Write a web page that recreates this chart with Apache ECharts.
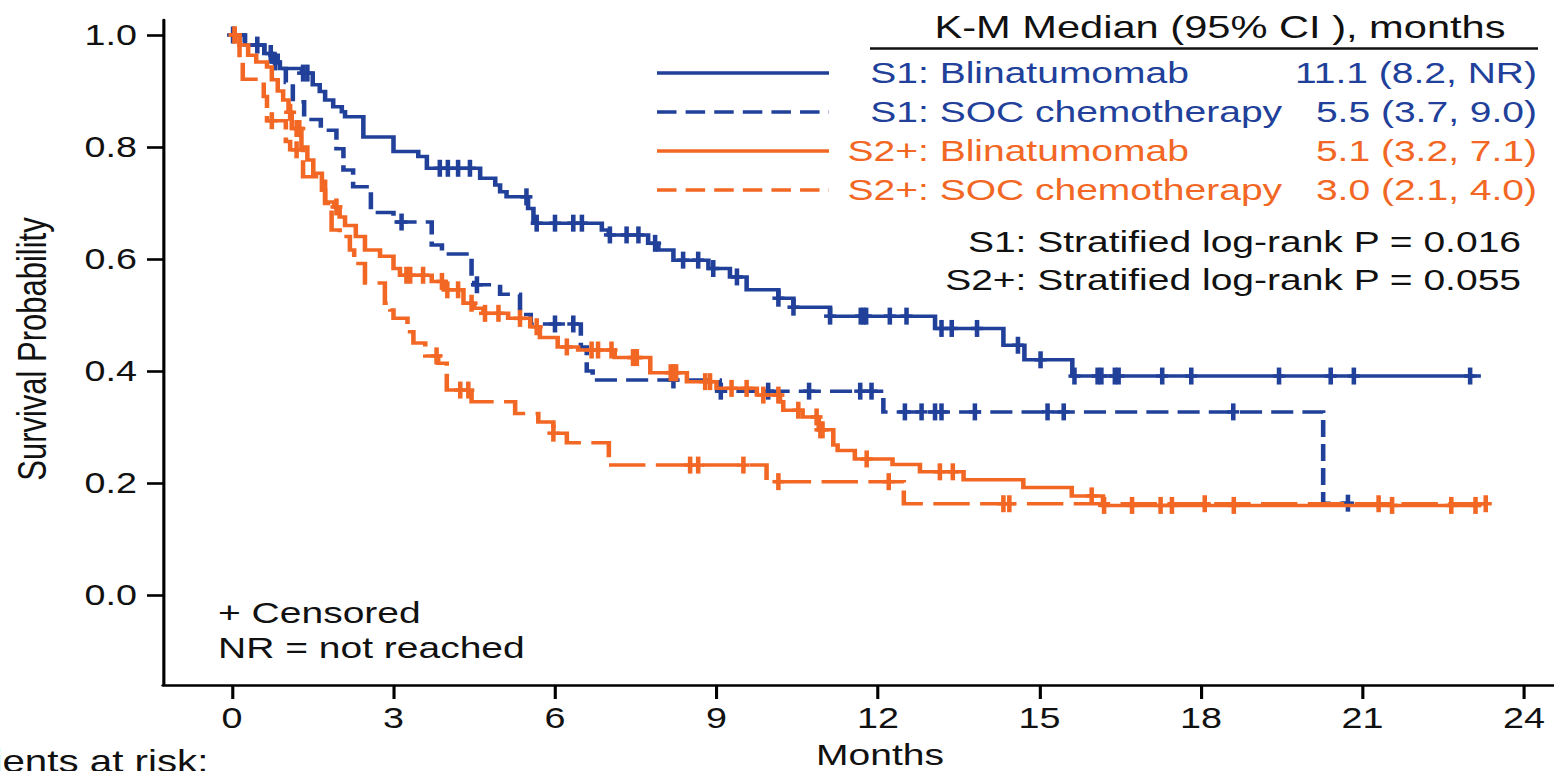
<!DOCTYPE html>
<html>
<head>
<meta charset="utf-8">
<script src="https://cdn.jsdelivr.net/npm/echarts@6/dist/echarts.min.js"></script>
<style>
  html, body { margin: 0; padding: 0; background: #fff; overflow: hidden; }
  #chart { width: 1195px; height: 771px; transform-origin: 0 0; }
</style>
</head>
<body>
<div id="chart"></div>
<script>
// ---- Kaplan-Meier data (months, survival probability) ----
// S1: Blinatumomab
const s1BlinTimes = [0, 0.24, 0.6, 0.75, 0.89, 1.3, 1.5, 1.63, 1.73, 1.88, 2.04, 2.1, 2.44, 3.0, 3.46, 3.62, 4.61, 4.89, 4.98, 5.1, 5.5, 5.6, 6.87, 7.0, 7.73, 7.92, 8.2, 8.85, 9.25, 9.56, 10.15, 10.43, 11.11, 13.06, 14.33, 14.72, 15.61];
const s1BlinSurv  = [1.0, 0.982, 0.967, 0.952, 0.94, 0.932, 0.911, 0.899, 0.884, 0.872, 0.863, 0.854, 0.818, 0.792, 0.783, 0.762, 0.744, 0.732, 0.72, 0.711, 0.69, 0.664, 0.652, 0.643, 0.628, 0.616, 0.598, 0.583, 0.568, 0.545, 0.53, 0.514, 0.498, 0.476, 0.446, 0.42, 0.391];
const s1BlinCensored = [0.02, 0.47, 0.72, 0.8, 1.32, 1.4, 3.86, 4.01, 4.2, 4.42, 5.47, 5.66, 6.0, 6.34, 6.5, 7.02, 7.33, 7.55, 7.86, 8.38, 8.66, 8.94, 9.38, 10.15, 10.43, 11.11, 11.68, 11.73, 11.78, 12.22, 12.53, 13.18, 13.37, 13.84, 14.6, 15.02, 15.65, 16.08, 16.15, 16.4, 16.47, 17.28, 17.82, 19.45, 20.41, 20.84, 23.0];
const s1BlinLast = 23.2;

// S1: SOC chemotherapy
const s1SocTimes = [0, 0.24, 0.6, 0.85, 1.0, 1.13, 1.34, 1.65, 1.94, 2.07, 2.25, 2.58, 3.0, 3.71, 3.9, 4.45, 4.5, 4.98, 5.35, 5.55, 6.48, 6.59, 6.7, 9.06, 12.1, 20.27];
const s1SocSurv  = [1.0, 0.982, 0.964, 0.94, 0.915, 0.881, 0.849, 0.83, 0.797, 0.759, 0.729, 0.683, 0.666, 0.625, 0.609, 0.57, 0.554, 0.537, 0.501, 0.484, 0.443, 0.4, 0.384, 0.364, 0.327, 0.164];
const s1SocCensored = [3.15, 4.55, 6.0, 6.34, 8.2, 9.08, 9.96, 10.72, 11.67, 11.88, 12.5, 12.81, 13.06, 13.18, 13.8, 15.15, 15.45, 18.6, 20.73];
const s1SocLast = 20.75;

// S2+: Blinatumomab
const s2BlinTimes = [0, 0.14, 0.3, 0.45, 0.65, 0.74, 0.85, 0.95, 1.05, 1.11, 1.29, 1.4, 1.51, 1.67, 1.73, 1.9, 2.0, 2.1, 2.3, 2.47, 2.75, 3.0, 3.12, 3.71, 3.95, 4.3, 4.5, 4.67, 5.13, 5.54, 5.72, 6.05, 6.43, 7.11, 7.77, 8.45, 9.0, 9.75, 10.18, 10.24, 10.6, 10.9, 11.17, 11.25, 11.57, 12.27, 12.78, 13.59, 14.7, 15.6, 16.18];
const s2BlinSurv  = [1.0, 0.982, 0.964, 0.952, 0.943, 0.92, 0.9, 0.884, 0.862, 0.833, 0.8, 0.777, 0.753, 0.723, 0.702, 0.693, 0.675, 0.66, 0.64, 0.616, 0.605, 0.583, 0.571, 0.56, 0.545, 0.521, 0.512, 0.503, 0.494, 0.479, 0.46, 0.443, 0.4375, 0.424, 0.397, 0.381, 0.369, 0.357, 0.345, 0.33, 0.318, 0.295, 0.268, 0.258, 0.243, 0.233, 0.22, 0.206, 0.192, 0.177, 0.16];
const s2BlinCensored = [0.05, 1.08, 1.2, 1.25, 1.94, 3.24, 3.31, 3.55, 3.9, 4.0, 4.2, 4.45, 4.7, 4.95, 5.35, 5.66, 6.22, 6.68, 6.8, 7.05, 7.45, 7.49, 7.52, 8.15, 8.2, 8.25, 8.79, 8.88, 9.28, 9.56, 9.87, 10.15, 10.52, 10.86, 10.93, 10.97, 11.79, 13.15, 13.39, 15.97, 16.2, 16.72, 17.25, 17.46, 18.61, 21.55, 22.65, 23.1];
const s2BlinLast = 23.2;

// S2+: SOC chemotherapy
const s2SocTimes = [0, 0.14, 0.2, 0.59, 0.65, 1.0, 1.08, 1.32, 1.73, 1.85, 2.0, 2.19, 2.27, 2.47, 2.84, 2.94, 3.0, 3.26, 3.37, 3.59, 3.83, 3.99, 4.45, 5.26, 5.69, 5.97, 6.22, 7.0, 9.93, 12.48];
const s2SocSurv  = [1.0, 0.96, 0.921, 0.89, 0.847, 0.81, 0.795, 0.747, 0.699, 0.652, 0.64, 0.616, 0.592, 0.557, 0.521, 0.509, 0.494, 0.47, 0.45, 0.427, 0.414, 0.366, 0.345, 0.324, 0.309, 0.289, 0.272, 0.232, 0.2024, 0.163];
const s2SocCensored = [0.05, 0.74, 1.2, 3.8, 4.24, 4.39, 5.97, 8.51, 8.66, 9.5, 10.15, 12.2, 14.33, 14.44, 18.07, 21.3, 23.29];
const s2SocLast = 23.3;

// ---- labels ----
const groupNames   = ['S1', 'S1', 'S2+', 'S2+'];
const armNames     = [': Blinatumomab', ': SOC chemotherapy', ': Blinatumomab', ': SOC chemotherapy'];
const medianLabels = ['11.1 (8.2, NR)', '5.5 (3.7, 9.0)', '5.1 (3.2, 7.1)', '3.0 (2.1, 4.0)'];
const pValueLabels = ['S1: Stratified log-rank P = 0.016', 'S2+: Stratified log-rank P = 0.055'];
const xTickValues  = [0, 3, 6, 9, 12, 15, 18, 21, 24];
const yTickValues  = [0, 0.2, 0.4, 0.6, 0.8, 1.0];

// ---- page setup ----
// The chart is laid out on a narrower canvas and stretched horizontally to
// the page width, which gives the wide type and strokes of this figure style.
const PAGE_W = 1554, CHART_W = 1195;
const SX = PAGE_W / CHART_W;
const el = document.getElementById('chart');
el.style.transform = 'scaleX(' + SX + ')';
const px = x => x / SX;   // page x -> chart x

const BLUE = '#21409a';
const ORANGE = '#f26724';
const INK = '#111111';
const FONT = '"Liberation Sans", Arial, Helvetica, sans-serif';

function stepData(times, surv, last) {
  const d = times.map((t, i) => [t, surv[i]]);
  d.push([last, surv[surv.length - 1]]);
  return d;
}
function survAt(times, surv, t) {
  let v = surv[0];
  for (let i = 0; i < times.length; i++) if (times[i] <= t) v = surv[i];
  return v;
}

const curves = [
  { times: s1BlinTimes, surv: s1BlinSurv, cens: s1BlinCensored, last: s1BlinLast, color: BLUE,   dash: null },
  { times: s1SocTimes,  surv: s1SocSurv,  cens: s1SocCensored,  last: s1SocLast,  color: BLUE,   dash: [17, 7] },
  { times: s2BlinTimes, surv: s2BlinSurv, cens: s2BlinCensored, last: s2BlinLast, color: ORANGE, dash: null },
  { times: s2SocTimes,  surv: s2SocSurv,  cens: s2SocCensored,  last: s2SocLast,  color: ORANGE, dash: [28, 8] }
];

const LINE_W = 3.5;
const series = [];
curves.forEach((c, k) => {
  series.push({
    type: 'line',
    step: 'end',
    data: stepData(c.times, c.surv, c.last),
    symbol: 'none',
    silent: true,
    z: 2 + k,
    lineStyle: { color: c.color, width: LINE_W, type: c.dash || 'solid', cap: 'butt', join: 'miter' }
  });
  series.push({
    type: 'custom',
    silent: true,
    z: 2 + k,
    data: c.cens.map(t => [t, survAt(c.times, c.surv, t)]),
    renderItem: (params, api) => {
      const p = api.coord([api.value(0), api.value(1)]);
      const h = px(6), v = 8.5;
      return {
        type: 'group',
        children: [
          { type: 'line', shape: { x1: p[0] - h, y1: p[1], x2: p[0] + h, y2: p[1] },
            style: { stroke: c.color, lineWidth: LINE_W } },
          { type: 'line', shape: { x1: p[0], y1: p[1] - v, x2: p[0], y2: p[1] + v },
            style: { stroke: c.color, lineWidth: LINE_W } }
        ]
      };
    }
  });
});

// ---- legend table and notes ----
const graphics = [];
const txt = (text, x, y, opts) => Object.assign({
  type: 'text', x: x, y: y, silent: true,
  style: Object.assign({ text: text, fontFamily: FONT, fontSize: 30, fill: INK,
                         align: 'left', verticalAlign: 'middle' }, opts || {})
});

graphics.push(txt('K-M Median (95% CI ), months', px(1220), 27, { align: 'center', fontSize: 32 }));
graphics.push({ type: 'line', silent: true, shape: { x1: px(870), y1: 48.5, x2: px(1538), y2: 48.5 },
                style: { stroke: INK, lineWidth: 2.5 } });

const rowY = [73, 112, 151, 190];
curves.forEach((c, i) => {
  graphics.push({ type: 'line', silent: true,
    shape: { x1: px(657), y1: rowY[i], x2: px(829), y2: rowY[i] },
    style: { stroke: c.color, lineWidth: LINE_W, lineDash: c.dash ? [15, 7] : null } });
  graphics.push(txt(groupNames[i], px(918), rowY[i], { align: 'right', fill: c.color }));
  graphics.push(txt(armNames[i], px(918), rowY[i], { fill: c.color }));
  graphics.push(txt(medianLabels[i], px(1537), rowY[i], { align: 'right', fill: c.color }));
});

graphics.push(txt(pValueLabels[0], px(1521), 242, { align: 'right' }));
graphics.push(txt(pValueLabels[1], px(1521), 280, { align: 'right' }));

graphics.push(txt('+ Censored', px(218), 613));
graphics.push(txt('NR = not reached', px(218), 648));
graphics.push(txt('Months', px(880), 755, { align: 'center' }));
graphics.push(txt('Patients at risk:', px(-67), 761, { fontSize: 31 }));
graphics.push(Object.assign(txt('Survival Probability', px(32), 349, { align: 'center', fontSize: 31 }),
                            { rotation: Math.PI / 2 }));

const chart = echarts.init(el, null, { renderer: 'svg' });
chart.setOption({
  animation: false,
  backgroundColor: '#ffffff',
  grid: { left: px(163), right: 0, top: 20, bottom: 86 },
  xAxis: {
    type: 'value',
    min: -1.2818, max: 24.558,
    axisLine: { show: true, onZero: false, lineStyle: { color: '#000', width: 2.6 } },
    axisTick: { show: true, customValues: xTickValues, length: 14, lineStyle: { color: '#000', width: 2.4 } },
    axisLabel: { customValues: xTickValues, margin: 19, fontSize: 29, color: INK, fontFamily: FONT },
    splitLine: { show: false }
  },
  yAxis: {
    type: 'value',
    min: -0.1607, max: 1.0268,
    axisLine: { show: true, onZero: false, lineStyle: { color: '#000', width: 2.4 } },
    axisTick: { show: true, customValues: yTickValues, length: px(16), lineStyle: { color: '#000', width: 2.6 } },
    axisLabel: { customValues: yTickValues, margin: px(26), fontSize: 29, color: INK, fontFamily: FONT,
                 formatter: v => v.toFixed(1) },
    splitLine: { show: false }
  },
  series: series,
  graphic: graphics
});
</script>
</body>
</html>
